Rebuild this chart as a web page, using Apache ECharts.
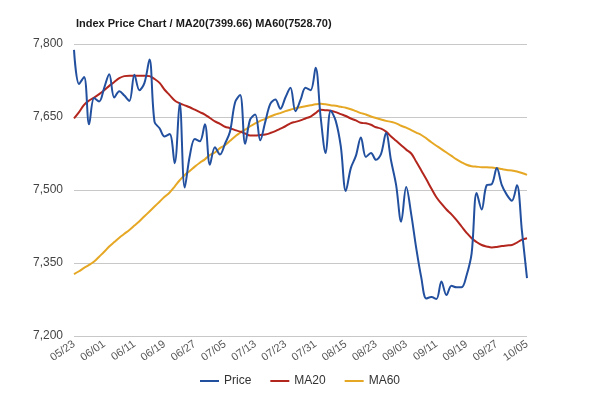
<!DOCTYPE html>
<html>
<head>
<meta charset="utf-8">
<script src="https://cdn.jsdelivr.net/npm/echarts@6/dist/echarts.min.js"></script>
<style>html,body{margin:0;padding:0;background:#fff;}#c{width:600px;height:395px;}</style>
</head>
<body>
<div id="c"></div>
<script>
const titleText = "Index Price Chart / MA20(7399.66) MA60(7528.70)";
const dates = [
"05/23","05/24","05/25","05/28","05/29","05/30",
"06/01","06/04","06/05","06/06","06/07","06/08",
"06/11","06/12","06/13","06/14","06/15","06/18",
"06/19","06/20","06/21","06/22","06/25","06/26",
"06/27","06/28","06/29","07/02","07/03","07/04",
"07/05","07/06","07/09","07/10","07/11","07/12",
"07/13","07/16","07/17","07/18","07/19","07/20",
"07/23","07/24","07/25","07/26","07/27","07/30",
"07/31","08/01","08/02","08/03","08/06","08/14",
"08/15","08/16","08/17","08/20","08/21","08/22",
"08/23","08/24","08/27","08/28","08/29","08/31",
"09/03","09/04","09/05","09/06","09/07","09/10",
"09/11","09/12","09/13","09/14","09/17","09/18",
"09/19","09/20","09/21","09/24","09/25","09/26",
"09/27","09/28","10/01","10/02","10/03","10/04",
"10/05"];
const price = [
7788,7718,7732,7635,7689,7682,7710,7738,7690,7703,
7694,7683,7737,7705,7720,7768,7640,7627,7610,7615,
7555,7679,7505,7570,7605,7600,7635,7552,7588,7573,
7595,7620,7680,7695,7595,7645,7655,7602,7640,7677,
7686,7667,7690,7710,7662,7685,7710,7705,7751,7650,
7576,7663,7642,7590,7498,7545,7570,7608,7568,7576,
7562,7574,7617,7560,7510,7435,7506,7450,7380,7320,
7277,7280,7276,7312,7284,7303,7300,7300,7325,7370,
7494,7460,7510,7512,7545,7510,7490,7478,7510,7415,
7319];
const ma20 = [
7647,7660,7675,7684,7690,7697,7705,7714,7722,7730,
7734,7735,7735,7735,7735,7734,7728,7720,7706,7695,
7684,7678,7674,7670,7665,7660,7655,7648,7641,7636,
7630,7627,7623,7620,7616,7612,7612,7613,7614,7617,
7621,7626,7631,7637,7640,7643,7647,7651,7658,7665,
7664,7663,7660,7656,7652,7647,7643,7638,7637,7634,
7629,7626,7620,7610,7601,7592,7583,7575,7558,7540,
7522,7503,7485,7472,7460,7450,7438,7425,7412,7401,
7393,7387,7384,7382,7383,7385,7386,7387,7392,7398,
7401];
const ma60 = [
7327,7333,7340,7346,7353,7363,7373,7384,7393,7402,
7410,7418,7427,7436,7446,7456,7466,7476,7486,7495,
7507,7520,7531,7539,7548,7556,7563,7572,7577,7586,
7592,7601,7610,7618,7624,7631,7637,7642,7646,7651,
7655,7658,7662,7665,7668,7670,7672,7674,7676,7677,
7676,7674,7673,7671,7669,7666,7662,7658,7655,7651,
7648,7645,7642,7640,7637,7632,7628,7623,7618,7613,
7606,7598,7591,7584,7577,7570,7563,7557,7552,7549,
7548,7547,7547,7546,7545,7543,7541,7540,7538,7535,
7531];
const yTicks = [7200, 7350, 7500, 7650, 7800];

const chart = echarts.init(document.getElementById('c'), null, {renderer: 'canvas'});
const font = 'Arial, "Liberation Sans", sans-serif';
chart.setOption({
  animation: false,
  backgroundColor: '#ffffff',
  title: {
    text: titleText, left: 71, top: 13,
    textStyle: {fontSize: 11, fontWeight: 'bold', color: '#1a1a1a', fontFamily: font}
  },
  legend: {
    bottom: 3, left: 'center', itemGap: 19, itemWidth: 19, itemHeight: 2, icon: 'rect',
    textStyle: {fontSize: 12, color: '#333', fontFamily: font},
    data: ['Price', 'MA20', 'MA60']
  },
  grid: {left: 74, right: 73, top: 44, bottom: 59, containLabel: false},
  xAxis: {
    type: 'category', data: dates, boundaryGap: false,
    axisLine: {show: false}, axisTick: {show: false},
    axisLabel: {interval: 5, rotate: 35, fontSize: 11, color: '#555', fontFamily: font, margin: 7}
  },
  yAxis: {
    type: 'value', min: yTicks[0], max: yTicks[yTicks.length - 1], interval: 150,
    axisLine: {show: false}, axisTick: {show: false},
    axisLabel: {fontSize: 12, color: '#444', fontFamily: font, margin: 11,
      formatter: v => v.toLocaleString('en-US')},
    splitLine: {lineStyle: {color: '#c8c8c8', width: 1}}
  },
  series: [
    {name: 'Price', type: 'line', data: price, smooth: 0.35, symbol: 'none',
     lineStyle: {color: '#22509f', width: 2}, itemStyle: {color: '#22509f'}, z: 3},
    {name: 'MA20', type: 'line', data: ma20, smooth: 0.4, symbol: 'none',
     lineStyle: {color: '#b3261e', width: 2}, itemStyle: {color: '#b3261e'}, z: 2},
    {name: 'MA60', type: 'line', data: ma60, smooth: 0.4, symbol: 'none',
     lineStyle: {color: '#e6a824', width: 2}, itemStyle: {color: '#e6a824'}, z: 1}
  ]
});
</script>
</body>
</html>
